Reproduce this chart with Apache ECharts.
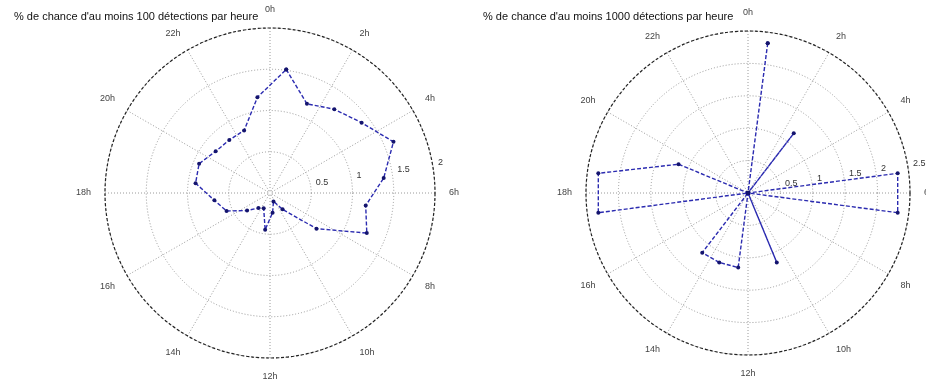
<!DOCTYPE html>
<html><head><meta charset="utf-8">
<script src="https://cdn.jsdelivr.net/npm/echarts@6/dist/echarts.min.js"></script>
<style>html,body{margin:0;padding:0;background:#fff}#c{width:926px;height:385px}</style>
</head><body><div id="c"></div>
<script>
// Hour bins (angle positions, in hours)
const hours = [0.5, 1.5, 2.5, 3.5, 4.5, 5.5, 6.5, 7.5, 8.5, 9.5, 10.5, 11.5,
               12.5, 13.5, 14.5, 15.5, 16.5, 17.5, 18.5, 19.5, 20.5, 21.5, 22.5, 23.5];
// Angular tick labels
const hourLabels = ['0h', '2h', '4h', '6h', '8h', '10h', '12h', '14h', '16h', '18h', '20h', '22h'];
// % chance of at least 100 detections per hour
const chance100 = [1.51, 1.17, 1.28, 1.40, 1.62, 1.39, 1.17, 1.27, 0.71, 0.25, 0.11, 0.24,
                   0.45, 0.20, 0.23, 0.35, 0.57, 0.68, 0.91, 0.93, 0.83, 0.81, 0.82, 1.17];
// % chance of at least 1000 detections per hour
const chance1000 = [2.33, 0, 1.16, 0, 0, 2.33, 2.33, 0, 0, 0, 1.16, 0,
                    1.16, 1.16, 1.16, 0, 0, 2.33, 2.33, 1.16, 0, 0, 0, 0];
// Radial ring ticks
const ringsLeft = [0.5, 1, 1.5, 2];
const ringsRight = [0.5, 1, 1.5, 2, 2.5];
const titles = ["% de chance d'au moins 100 détections par heure",
                "% de chance d'au moins 1000 détections par heure"];

const FONT = 'Liberation Sans, Arial, sans-serif';
const centers = [[270, 193], [748, 193]];
const radii = [165, 162];
const ringSets = [ringsLeft, ringsRight];

function closed(vals) {
  const d = hours.map((h, i) => [vals[i], h]);
  d.push([vals[0], hours[0]]);
  return d;
}

const polar = [], angleAxis = [], radiusAxis = [];
for (let k = 0; k < 2; k++) {
  const rings = ringSets[k];
  const rmax = rings[rings.length - 1];
  // main polar
  polar.push({center: centers[k], radius: radii[k]});
  angleAxis.push({
    polarIndex: 2 * k, type: 'value', min: 0, max: 24, interval: 2,
    startAngle: 90, clockwise: true,
    axisLine: {lineStyle: {color: '#222', width: 1.2, type: [3, 2]}},
    axisTick: {show: false},
    axisLabel: {fontSize: 9, color: '#444', fontFamily: FONT, margin: 14,
      formatter: v => (v >= 24 ? '' : hourLabels[Math.round(v / 2)])},
    splitLine: {lineStyle: {color: '#9a9a9a', width: 1, type: [1, 2]}}
  });
  radiusAxis.push({
    polarIndex: 2 * k, type: 'value', min: 0, max: rmax, interval: rings[0],
    axisLine: {show: false}, axisTick: {show: false}, axisLabel: {show: false},
    splitLine: {lineStyle: {color: '#9a9a9a', width: 1, type: [1, 2]}}
  });
  // helper polar hosting ring labels along an ~9 degree line
  polar.push({center: centers[k], radius: radii[k]});
  angleAxis.push({
    polarIndex: 2 * k + 1, type: 'value', min: 0, max: 24, startAngle: 9,
    show: false
  });
  radiusAxis.push({
    polarIndex: 2 * k + 1, type: 'value', min: 0, max: rmax, interval: rings[0],
    axisLine: {show: false}, axisTick: {show: false}, splitLine: {show: false},
    axisLabel: {showMinLabel: false, fontSize: 9, color: '#333', fontFamily: FONT,
      align: 'left', verticalAlign: 'bottom', margin: 0,
      formatter: v => '  ' + v}
  });
}

const lineStyle = {color: '#2b2bb0', width: 1.4, type: [4, 2]};
const itemStyle = {color: '#14146e'};

const option = {
  backgroundColor: '#fff',
  animation: false,
  title: [
    {text: titles[0], left: 9, top: 6, textStyle: {fontSize: 11, fontWeight: 'normal', color: '#111', fontFamily: FONT}},
    {text: titles[1], left: 478, top: 6, textStyle: {fontSize: 11, fontWeight: 'normal', color: '#111', fontFamily: FONT}}
  ],
  polar, angleAxis, radiusAxis,
  series: [
    {type: 'line', coordinateSystem: 'polar', polarIndex: 0, data: closed(chance100),
     symbol: 'circle', symbolSize: 4, lineStyle, itemStyle, z: 5},
    {type: 'line', coordinateSystem: 'polar', polarIndex: 2, data: closed(chance1000),
     symbol: 'circle', symbolSize: 4, lineStyle, itemStyle, z: 5}
  ]
};
const chart = echarts.init(document.getElementById('c'), null, {renderer: 'canvas'});
chart.setOption(option);
</script></body></html>
